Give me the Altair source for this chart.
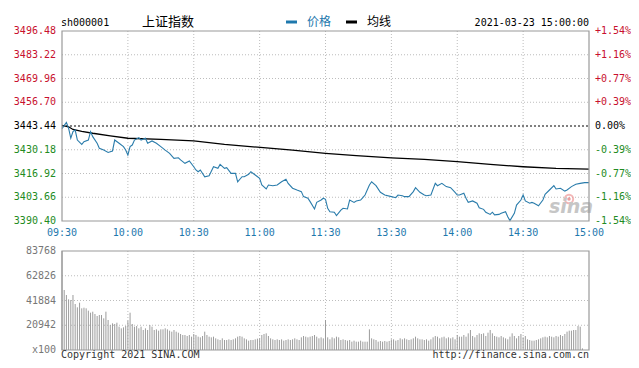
import altair as alt
import pandas as pd

# ---------------- data ----------------
prev_close = 3443.44
price_ticks = [3496.48, 3483.22, 3469.96, 3456.70, 3443.44, 3430.18, 3416.92, 3403.66, 3390.40]
pct_labels = ["+1.54%", "+1.16%", "+0.77%", "+0.39%", "0.00%", "-0.39%", "-0.77%", "-1.16%", "-1.54%"]
tick_side = ["up", "up", "up", "up", "flat", "down", "down", "down", "down"]

vol_ticks = [0, 20942, 41884, 62826, 83768]
vol_labels = ["x100", "20942", "41884", "62826", "83768"]

time_ticks = [0, 30, 60, 90, 120, 150, 180, 210, 240]
time_labels = ["09:30", "10:00", "10:30", "11:00", "11:30", "13:30", "14:00", "14:30", "15:00"]

# minute index (0 = 09:30, 120 = 11:30/13:00, 240 = 15:00) and price
price_min = [0, 2, 3, 4, 5, 6, 7, 9, 10, 12, 13, 14, 16, 17, 19, 21, 23, 24, 26, 28,
             29, 30, 31, 32, 33, 35, 36, 38, 39, 41, 43, 45, 47, 49, 51, 53, 54, 56, 58, 60,
             61, 62, 63, 65, 67, 69, 71, 72, 74, 75, 77, 79, 80, 82, 83, 85, 86, 88, 90, 91,
             93, 94, 96, 98, 100, 102, 103, 105, 107, 109, 110, 112, 113, 115, 116, 118, 119, 120,
             121, 122, 124, 125, 127, 128, 130, 131, 133, 134, 136, 137, 138, 140, 141, 143, 145, 147,
             150, 152, 153, 155, 156, 158, 160, 161, 163, 165, 166, 168, 170, 171, 173, 175, 177, 179,
             180, 181, 183, 184, 185, 187, 189, 190, 192, 193, 195, 196, 197, 199, 200, 202, 203, 204,
             206, 207, 209, 210, 211, 213, 214, 215, 217, 219, 220, 222, 224, 225, 227, 229, 230, 232,
             234, 236, 238, 240]
price_val = [3442.0, 3445.5, 3442.2, 3436.6, 3440.3, 3441.2, 3435.6, 3433.2, 3434.7, 3435.6,
             3440.3, 3437.5, 3433.8, 3431.0, 3430.0, 3428.7, 3429.5, 3435.6, 3433.8, 3431.9,
             3430.0, 3427.2, 3431.9, 3432.8, 3435.6, 3436.9, 3435.6, 3436.6, 3433.8, 3435.1,
             3433.8, 3431.9, 3430.0, 3428.2, 3425.4, 3425.7, 3424.5, 3422.6, 3423.9, 3420.7,
             3418.9, 3417.9, 3418.9, 3415.1, 3415.7, 3420.7, 3419.8, 3422.0, 3419.8, 3420.2,
             3417.0, 3417.0, 3412.3, 3415.1, 3415.1, 3416.5, 3417.9, 3416.1, 3414.2, 3410.5,
             3408.3, 3410.5, 3410.1, 3410.5, 3412.3, 3413.7, 3411.4, 3408.7, 3407.7, 3406.8,
             3404.0, 3403.1, 3401.2, 3397.1, 3400.8, 3402.1, 3403.1, 3402.5,
             3397.5, 3395.6, 3395.3, 3393.4, 3396.5, 3397.5, 3397.1, 3402.1, 3400.8, 3401.6,
             3402.1, 3403.4, 3404.9, 3410.5, 3412.3, 3410.1, 3406.4, 3404.9,
             3404.0, 3403.4, 3404.9, 3404.5, 3404.0, 3404.0, 3406.8, 3409.0, 3406.4, 3404.9,
             3404.5, 3404.9, 3411.4, 3410.1, 3411.4, 3409.6, 3409.0, 3406.4,
             3404.9, 3404.9, 3405.9, 3403.1, 3400.8, 3401.6, 3400.3, 3397.8, 3396.9, 3395.3,
             3394.1, 3395.3, 3393.8, 3394.1, 3394.7, 3395.6, 3392.8, 3390.6,
             3394.7, 3399.3, 3402.1, 3404.9, 3401.6, 3400.3, 3400.8, 3400.3, 3398.9, 3402.1,
             3405.3, 3407.7, 3410.1, 3408.3, 3408.7, 3407.1, 3407.7, 3409.6,
             3410.9, 3411.4, 3411.8, 3411.8]

avg_min = [0, 3, 5, 9, 14, 22, 30, 45, 60, 74, 89, 105, 120, 134, 150, 165, 180, 195, 210, 225, 240]
avg_val = [3443.8, 3443.0, 3441.5, 3440.5, 3439.4, 3437.9, 3436.6, 3436.0, 3435.1, 3433.2,
           3431.6, 3430.0, 3428.2, 3426.9, 3425.7, 3424.8, 3423.5, 3422.0, 3420.7, 3419.8, 3419.4]

volume = [83768, 50760, 46530, 42860, 42300, 46530, 38920, 36100, 40040, 35250,
          35810, 35250, 33280, 31580, 32430, 30460, 28760, 29610, 29610, 26790,
          32430, 25380, 21150, 22560, 22000, 23120, 19740, 18330, 19180, 20300,
          24820, 31580, 22000, 19740, 20300, 18330, 19740, 16920, 18330, 16920,
          21150, 19740, 16920, 17480, 16360, 17480, 17480, 18330, 17480, 16360,
          15510, 16920, 15510, 14660, 13540, 12690, 12690, 11840, 12690, 11280,
          13540, 12690, 11280, 10720, 11840, 15510, 12690, 11280, 10720, 11280,
          9870, 9020, 8460, 9870, 8460, 8460, 9020, 8460, 9020, 9870,
          11280, 11840, 11280, 9870, 9020, 7900, 8460, 8460, 9020, 9590,
          9870, 12690, 13540, 14100, 11840, 9870, 9020, 8460, 9020, 8460,
          9020, 7900, 8460, 9020, 8460, 9020, 9870, 9020, 8460, 10720,
          11840, 11280, 10720, 11280, 11840, 12690, 11280, 9870, 10720, 9870,
          25380, 10720, 9020, 10720, 9870, 11280, 10720, 8460, 9020, 8460,
          7900, 8460, 7050, 7900, 7050, 7050, 7900, 7050, 7050, 7050,
          17480, 9870, 9020, 8460, 7050, 7610, 7050, 7610, 7050, 7610,
          9020, 9020, 7900, 8460, 9870, 9020, 9870, 9020, 8460, 9020,
          9870, 11280, 9870, 9020, 9020, 8460, 9020, 7900, 9020, 10720,
          11840, 11280, 9870, 10720, 11280, 9870, 10720, 9870, 10720, 9020,
          12690, 11280, 11280, 12690, 11280, 14100, 16920, 11840, 10720, 12690,
          14100, 13540, 14100, 11840, 14660, 16920, 14100, 11840, 11280, 10720,
          11840, 10720, 9870, 9020, 11280, 14100, 11840, 9870, 11840, 13540,
          10720, 11840, 9020, 8460, 7900, 7900, 8460, 9020, 9870, 10720,
          11280, 10720, 11840, 11280, 10720, 11840, 11280, 12690, 11840, 13540,
          15510, 16360, 16360, 16920, 16920, 20300, 19740, 1410, 0, 0, 0]

assert len(price_min) == len(price_val)
assert len(avg_min) == len(avg_val)
assert len(volume) == 241

# ---------------- layout / style ----------------
W, H = 527, 319
PH = 190           # price panel height
VT, VB = 220, 319  # volume panel top / bottom
MONO = "DejaVu Sans Mono"
CJK = "Noto Sans CJK SC"
BLUE = "#1e78ad"
RED = "#c8102e"
GREEN = "#228b22"
GRID = "#bdbdbd"
BORDER = "#9a9a9a"

ps = alt.Scale(domain=[3390.40, 3496.48], range=[PH, 0], nice=False, zero=False)
vs = alt.Scale(domain=[0, 83768], range=[VB, VT], nice=False, zero=False)
xs = alt.Scale(domain=[0, 240], nice=False, zero=False)
side_scale = alt.Scale(domain=["up", "flat", "down"], range=[RED, "#000000", GREEN])

price_df = pd.DataFrame({"m": price_min, "p": price_val})
avg_df = pd.DataFrame({"m": avg_min, "p": avg_val})
vol_df = pd.DataFrame({"m": list(range(241)), "v": volume})
ptick_df = pd.DataFrame({"p": price_ticks, "pct": pct_labels, "side": tick_side})
vtick_df = pd.DataFrame({"v": vol_ticks, "lab": vol_labels})
ttick_df = pd.DataFrame({"m": time_ticks, "lab": time_labels})
one = pd.DataFrame({"k": [0]})

pgrid_df = ptick_df[(ptick_df.p != prev_close) & (ptick_df.p != price_ticks[0]) & (ptick_df.p != price_ticks[-1])]
vgrid_df = vtick_df[(vtick_df.v != vol_ticks[0]) & (vtick_df.v != vol_ticks[-1])]
tgrid_df = ttick_df[(ttick_df.m != time_ticks[0]) & (ttick_df.m != time_ticks[-1])]

price_grid = alt.Chart(pgrid_df).mark_rule(color=GRID, strokeDash=[1, 2], strokeWidth=1).encode(
    x=alt.value(0), x2=alt.value(W), y=alt.Y("p:Q", scale=ps, axis=None))
zero_line = alt.Chart(pd.DataFrame({"p": [prev_close]})).mark_rule(
    color="#000000", strokeDash=[2, 2], strokeWidth=1).encode(
    x=alt.value(0), x2=alt.value(W), y=alt.Y("p:Q", scale=ps, axis=None))
vol_grid = alt.Chart(vgrid_df).mark_rule(color=GRID, strokeDash=[1, 2], strokeWidth=1).encode(
    x=alt.value(0), x2=alt.value(W), y=alt.Y("v:Q", scale=vs, axis=None))
vgrid_top = alt.Chart(tgrid_df).mark_rule(color=GRID, strokeDash=[1, 2], strokeWidth=1).encode(
    x=alt.X("m:Q", scale=xs, axis=None), y=alt.value(0), y2=alt.value(PH))
vgrid_bot = alt.Chart(tgrid_df).mark_rule(color=GRID, strokeDash=[1, 2], strokeWidth=1).encode(
    x=alt.X("m:Q", scale=xs, axis=None), y=alt.value(VT), y2=alt.value(VB))

vol_bars = alt.Chart(vol_df).mark_rule(color="#9c9c9c", strokeWidth=1).encode(
    x=alt.X("m:Q", scale=xs, axis=None),
    y=alt.Y("v:Q", scale=vs, axis=None), y2=alt.datum(0))

avg_line = alt.Chart(avg_df).mark_line(color="#000000", strokeWidth=1.3).encode(
    x=alt.X("m:Q", scale=xs, axis=None), y=alt.Y("p:Q", scale=ps, axis=None))
price_line = alt.Chart(price_df).mark_line(color="#2a7cab", strokeWidth=1.1).encode(
    x=alt.X("m:Q", scale=xs, axis=None), y=alt.Y("p:Q", scale=ps, axis=None))

border_top = alt.Chart(one).mark_rect(fillOpacity=0, stroke=BORDER, strokeWidth=1.2).encode(
    x=alt.value(0), x2=alt.value(W), y=alt.value(0), y2=alt.value(PH))
border_bot = alt.Chart(one).mark_rect(fillOpacity=0, stroke=BORDER, strokeWidth=1.2).encode(
    x=alt.value(0), x2=alt.value(W), y=alt.value(VT), y2=alt.value(VB))

left_labels = alt.Chart(ptick_df).mark_text(font=MONO, fontSize=10, align="right", baseline="middle").encode(
    x=alt.value(-6), y=alt.Y("p:Q", scale=ps, axis=None),
    text=alt.Text("p:Q", format=".2f"),
    color=alt.Color("side:N", scale=side_scale, legend=None))
right_labels = alt.Chart(ptick_df).mark_text(font=MONO, fontSize=10, align="left", baseline="middle").encode(
    x=alt.value(W + 6), y=alt.Y("p:Q", scale=ps, axis=None),
    text="pct:N",
    color=alt.Color("side:N", scale=side_scale, legend=None))
vol_labels_l = alt.Chart(vtick_df).mark_text(font=MONO, fontSize=10, align="right", baseline="middle",
                                             color="#777777").encode(
    x=alt.value(-6), y=alt.Y("v:Q", scale=vs, axis=None), text="lab:N")
time_lab = alt.Chart(ttick_df).mark_text(font=MONO, fontSize=10, align="center", baseline="middle",
                                         color=BLUE).encode(
    x=alt.X("m:Q", scale=xs, axis=None), y=alt.value(PH + 12), text="lab:N")


def txt(s, x, y, **kw):
    return alt.Chart(pd.DataFrame({"t": [s]})).mark_text(**kw).encode(
        x=alt.value(x), y=alt.value(y), text="t:N")


header = [
    txt("sh000001", -1, -8, font=MONO, fontSize=10, align="left", baseline="middle", color="#000000"),
    txt("上证指数", 80, -9, font=CJK, fontSize=13, align="left", baseline="middle", color="#000000"),
    txt("价格", 245, -9, font=CJK, fontSize=12, align="left", baseline="middle", color=BLUE),
    txt("均线", 305, -9, font=CJK, fontSize=12, align="left", baseline="middle", color="#000000"),
    txt("2021-03-23 15:00:00", W, -8, font=MONO, fontSize=10, align="right", baseline="middle", color="#000000"),
    txt("Copyright 2021 SINA.COM", -1, 327, font=MONO, fontSize=10, align="left", baseline="alphabetic",
        color="#333333"),
    txt("http://finance.sina.com.cn", W, 327, font=MONO, fontSize=10, align="right", baseline="alphabetic",
        color="#333333"),
    txt("sina", 509, 182, font="DejaVu Sans", fontSize=19, fontStyle="italic", fontWeight="bold",
        align="center", baseline="alphabetic", color="#c6c6c6"),
]
legend_blue = alt.Chart(one).mark_rule(color=BLUE, strokeWidth=3).encode(
    x=alt.value(224), x2=alt.value(235), y=alt.value(-9))
legend_black = alt.Chart(one).mark_rule(color="#000000", strokeWidth=3).encode(
    x=alt.value(284), x2=alt.value(295), y=alt.value(-9))
logo = alt.Chart(one).mark_point(shape="circle", filled=False, color="#ef9a9a", size=70, strokeWidth=2).encode(
    x=alt.value(507), y=alt.value(168))
logo_dot = alt.Chart(one).mark_point(shape="circle", filled=True, color="#e57373", size=12).encode(
    x=alt.value(507), y=alt.value(168))

chart = alt.layer(
    price_grid, zero_line, vol_grid, vgrid_top, vgrid_bot, vol_bars,
    logo, logo_dot, header[-1],
    avg_line, price_line, border_top, border_bot,
    left_labels, right_labels, vol_labels_l, time_lab,
    legend_blue, legend_black, *header[:-1],
).resolve_scale(y="independent").properties(
    width=W, height=H,
    autosize=alt.AutoSizeParams(type="none"),
    padding={"left": 54, "top": 23, "right": 42, "bottom": 10},
).configure_view(stroke=None)

chart.save("out.html", embed_options={"renderer": "svg", "actions": False})
